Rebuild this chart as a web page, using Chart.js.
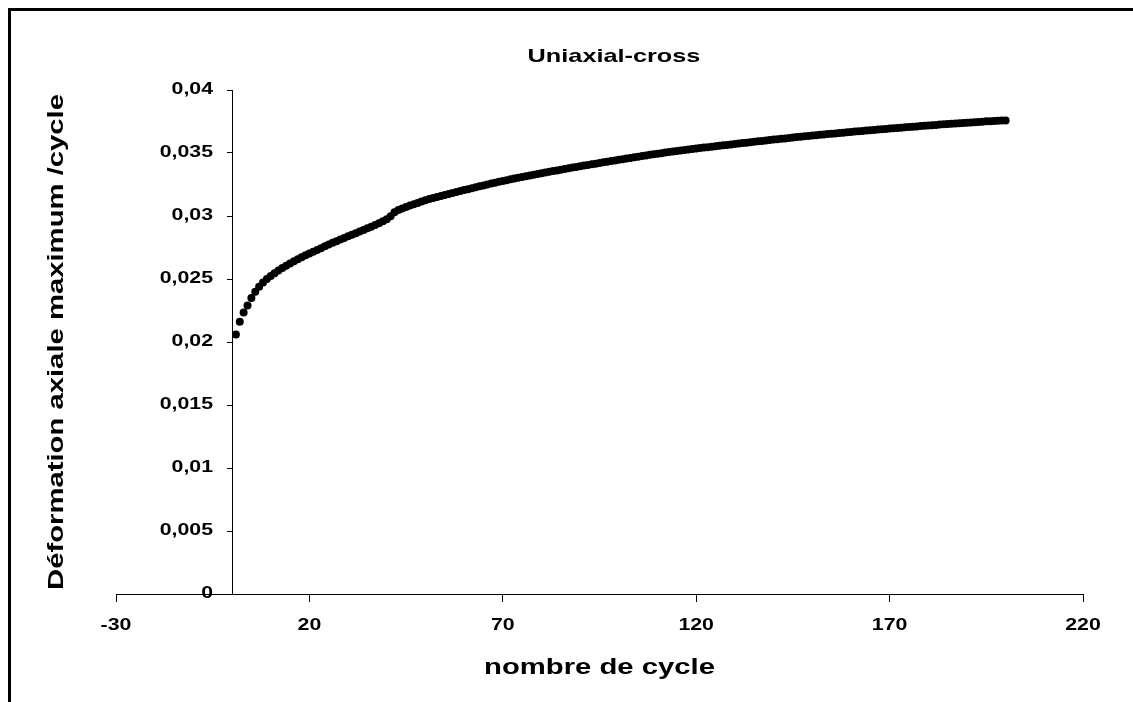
<!DOCTYPE html>
<html>
<head>
<meta charset="utf-8">
<title>Uniaxial-cross</title>
<script src="https://cdn.jsdelivr.net/npm/chart.js@4/dist/chart.umd.min.js"></script>
<style>
  body { margin: 0; background: #fff; }
  canvas { display: block; }
</style>
</head>
<body>
<canvas id="cycle-chart" width="1133" height="702"></canvas>
<script>
// cycle numbers (x) and max axial strain per cycle (y)
const cycles = [
  1, 2, 3, 4, 5, 6, 7, 8, 9, 10, 11, 12, 13, 14, 15, 16, 17, 18, 19, 20,
  21, 22, 23, 24, 25, 26, 27, 28, 29, 30, 31, 32, 33, 34, 35, 36, 37, 38, 39, 40,
  41, 42, 43, 44, 45, 46, 47, 48, 49, 50, 51, 52, 53, 54, 55, 56, 57, 58, 59, 60,
  61, 62, 63, 64, 65, 66, 67, 68, 69, 70, 71, 72, 73, 74, 75, 76, 77, 78, 79, 80,
  81, 82, 83, 84, 85, 86, 87, 88, 89, 90, 91, 92, 93, 94, 95, 96, 97, 98, 99, 100,
  101, 102, 103, 104, 105, 106, 107, 108, 109, 110, 111, 112, 113, 114, 115, 116, 117, 118, 119, 120,
  121, 122, 123, 124, 125, 126, 127, 128, 129, 130, 131, 132, 133, 134, 135, 136, 137, 138, 139, 140,
  141, 142, 143, 144, 145, 146, 147, 148, 149, 150, 151, 152, 153, 154, 155, 156, 157, 158, 159, 160,
  161, 162, 163, 164, 165, 166, 167, 168, 169, 170, 171, 172, 173, 174, 175, 176, 177, 178, 179, 180,
  181, 182, 183, 184, 185, 186, 187, 188, 189, 190, 191, 192, 193, 194, 195, 196, 197, 198, 199, 200
]

const deformation = [
  0.02060, 0.02160, 0.02235, 0.02290, 0.02350, 0.02398, 0.02438, 0.02472, 0.02500, 0.02524,
  0.02546, 0.02567, 0.02587, 0.02606, 0.02624, 0.02641, 0.02657, 0.02673, 0.02688, 0.02702,
  0.02717, 0.02731, 0.02745, 0.02759, 0.02773, 0.02787, 0.02800, 0.02813, 0.02826, 0.02839,
  0.02852, 0.02864, 0.02877, 0.02889, 0.02902, 0.02915, 0.02928, 0.02942, 0.02958, 0.02975,
  0.02998, 0.03030, 0.03048, 0.03060, 0.03072, 0.03083, 0.03094, 0.03104, 0.03115, 0.03125,
  0.03134, 0.03142, 0.03150, 0.03158, 0.03166, 0.03174, 0.03182, 0.03190, 0.03198, 0.03206,
  0.03213, 0.03221, 0.03228, 0.03236, 0.03243, 0.03250, 0.03257, 0.03264, 0.03271, 0.03278,
  0.03284, 0.03291, 0.03297, 0.03304, 0.03310, 0.03316, 0.03322, 0.03328, 0.03334, 0.03340,
  0.03346, 0.03351, 0.03357, 0.03362, 0.03368, 0.03373, 0.03379, 0.03384, 0.03389, 0.03395,
  0.03400, 0.03405, 0.03410, 0.03415, 0.03420, 0.03426, 0.03431, 0.03436, 0.03441, 0.03446,
  0.03451, 0.03456, 0.03461, 0.03466, 0.03471, 0.03476, 0.03481, 0.03486, 0.03490, 0.03495,
  0.03499, 0.03503, 0.03507, 0.03511, 0.03515, 0.03519, 0.03523, 0.03527, 0.03531, 0.03535,
  0.03539, 0.03543, 0.03546, 0.03550, 0.03554, 0.03557, 0.03561, 0.03564, 0.03568, 0.03572,
  0.03575, 0.03579, 0.03582, 0.03586, 0.03589, 0.03593, 0.03596, 0.03600, 0.03603, 0.03607,
  0.03610, 0.03613, 0.03616, 0.03620, 0.03623, 0.03626, 0.03629, 0.03632, 0.03635, 0.03638,
  0.03641, 0.03644, 0.03647, 0.03650, 0.03653, 0.03655, 0.03658, 0.03661, 0.03664, 0.03667,
  0.03670, 0.03672, 0.03675, 0.03678, 0.03680, 0.03683, 0.03686, 0.03688, 0.03691, 0.03694,
  0.03696, 0.03699, 0.03701, 0.03704, 0.03706, 0.03709, 0.03711, 0.03714, 0.03716, 0.03719,
  0.03721, 0.03723, 0.03726, 0.03728, 0.03730, 0.03732, 0.03734, 0.03737, 0.03739, 0.03741,
  0.03743, 0.03745, 0.03747, 0.03749, 0.03751, 0.03752, 0.03754, 0.03755, 0.03757, 0.03758
]

const xTicks = [-30, 20, 70, 120, 170, 220]
const yTicks = [0, 0.005, 0.01, 0.015, 0.02, 0.025, 0.03, 0.035, 0.04]

const chartTitle = 'Uniaxial-cross'
const xTitle = 'nombre de cycle'
const yTitle = 'Déformation axiale maximum /cycle'

const FONT = '"Liberation Sans", Arial, sans-serif'
// the lettering is drawn wide, stretched along the text direction
const STRETCH = 1.33

function wideText(ctx, text, x, y, align, size, rotation) {
    ctx.save()
    ctx.translate(x, y)
    if (rotation) ctx.rotate(rotation)
    ctx.scale(STRETCH, 1)
    ctx.font = 'bold ' + size + 'px ' + FONT
    ctx.textAlign = align
    ctx.textBaseline = 'middle'
    ctx.fillText(text, 0, 0)
    ctx.restore()
}

function yLabel(v) {
    return String(v).replace('.', ',')
}

// white background, the black top/left frame, tick labels and titles
const decorations = {
    id: 'decorations',
    beforeDraw(chart) {
        const ctx = chart.ctx
        ctx.save()
        ctx.fillStyle = '#fff'
        ctx.fillRect(0, 0, chart.width, chart.height)
        ctx.strokeStyle = '#000'
        ctx.lineWidth = 3
        ctx.beginPath()
        ctx.moveTo(9.5, chart.height)
        ctx.lineTo(9.5, 9.5)
        ctx.lineTo(chart.width, 9.5)
        ctx.stroke()
        ctx.restore()
    },
    afterDraw(chart) {
        const ctx = chart.ctx
        const { x, y } = chart.scales
        const axisX = x.getPixelForValue(0)
        const axisY = y.getPixelForValue(0)
        ctx.save()
        ctx.fillStyle = '#000'

        x.ticks.forEach(t => {
            wideText(ctx, String(t.value), x.getPixelForValue(t.value), axisY + 32, 'center', 16)
        })
        y.ticks.forEach(t => {
            wideText(ctx, yLabel(t.value), axisX - 19, y.getPixelForValue(t.value), 'right', 16)
        })

        wideText(ctx, chartTitle, 614, 57, 'center', 19)
        wideText(ctx, xTitle, (chart.chartArea.left + chart.chartArea.right) / 2, 668, 'center', 22)
        wideText(ctx, yTitle, 57, 342, 'center', 22, -Math.PI / 2)
        ctx.restore()
    }
}

new Chart(document.querySelector('#cycle-chart').getContext('2d'), {
    type: 'scatter',
    data: {
        datasets: [{
            data: cycles.map((c, i) => ({ x: c, y: deformation[i] })),
            backgroundColor: '#000',
            borderWidth: 0,
            pointRadius: 4,
            pointHoverRadius: 4
        }]
    },
    options: {
        responsive: false,
        animation: false,
        layout: { padding: { left: 116, right: 50, top: 90, bottom: 0 } },
        plugins: {
            legend: { display: false },
            tooltip: { enabled: false }
        },
        scales: {
            x: {
                type: 'linear',
                min: xTicks[0],
                max: xTicks[xTicks.length - 1],
                afterBuildTicks: scale => { scale.ticks = xTicks.map(v => ({ value: v })) },
                afterFit: scale => { scale.height = 108 },
                grid: { drawOnChartArea: false, color: '#000', tickLength: 8 },
                border: { color: '#000', width: 1 },
                ticks: { display: false }
            },
            y: {
                type: 'linear',
                position: { x: 0 },
                min: yTicks[0],
                max: yTicks[yTicks.length - 1],
                afterBuildTicks: scale => { scale.ticks = yTicks.map(v => ({ value: v })) },
                grid: { drawOnChartArea: false, color: '#000', tickLength: 5 },
                border: { color: '#000', width: 1 },
                ticks: { display: false }
            }
        }
    },
    plugins: [decorations]
})
</script>
</body>
</html>
